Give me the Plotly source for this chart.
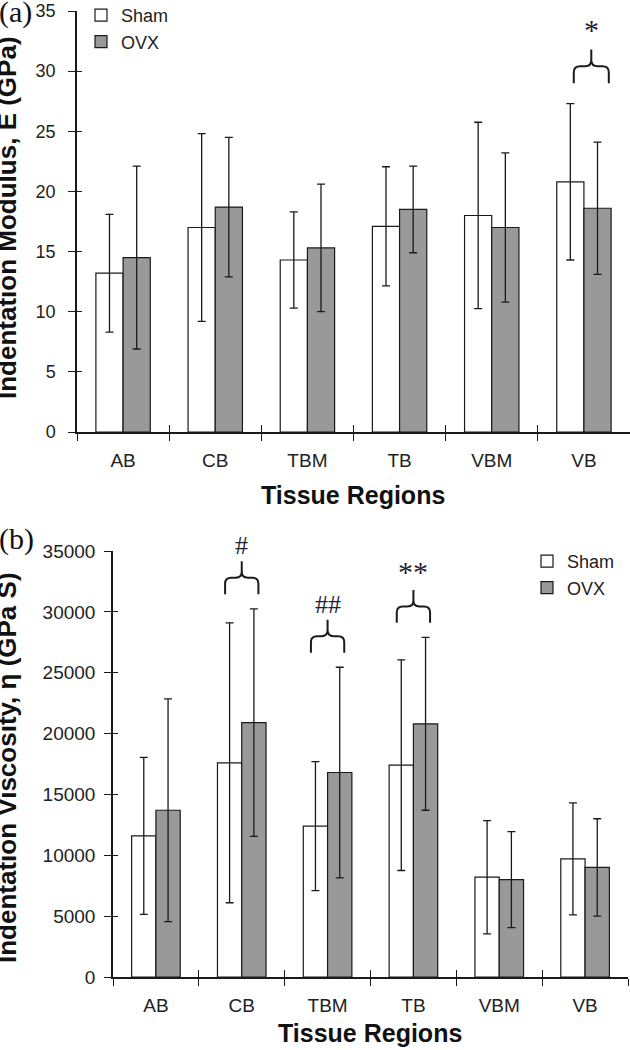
import plotly.graph_objects as go

regions = ["AB", "CB", "TBM", "TB", "VBM", "VB"]

# (a) indentation modulus, GPa
mod_sham = [13.2, 17.0, 14.3, 17.1, 18.0, 20.8]
mod_sham_sd = [4.9, 7.8, 4.0, 4.95, 7.75, 6.5]
mod_ovx = [14.5, 18.7, 15.3, 18.5, 17.0, 18.6]
mod_ovx_sd = [7.6, 5.8, 5.3, 3.6, 6.2, 5.5]

# (b) indentation viscosity, GPa S
visc_sham = [11600, 17600, 12400, 17400, 8200, 9700]
visc_sham_sd = [6450, 11500, 5300, 8650, 4650, 4600]
visc_ovx = [13700, 20900, 16800, 20800, 8000, 9000]
visc_ovx_sd = [9150, 9350, 8650, 7100, 3950, 4000]

# significance marks
mod_sig = ["VB"]
mod_sig_labels = ["*"]
visc_sig = ["CB", "TBM", "TB"]
visc_sig_labels = ["#", "##", "**"]

INK = "#1a1a1a"
GREY = "#999999"
SANS = "Liberation Sans, Arial, sans-serif"
SERIF = "Liberation Serif, Times New Roman, serif"
W, H = 630, 1050


def px(x):
    return x / W


def py(y):
    return (H - y) / H


xs = list(range(len(regions)))
bounds = [i - 0.5 for i in range(len(regions) + 1)]

fig = go.Figure()


def add_pair(sham, sham_sd, ovx, ovx_sd, xa, ya, legend, bw):
    common = dict(xaxis=xa, yaxis=ya, legend=legend, width=bw,
                  marker_line=dict(color=INK, width=1.2))
    err = dict(type="data", color=INK, thickness=1.3, width=4)
    fig.add_trace(go.Bar(x=xs, y=sham, name="Sham", offset=-bw,
                         marker_color="white",
                         error_y=dict(array=sham_sd, **err), **common))
    fig.add_trace(go.Bar(x=xs, y=ovx, name="OVX", offset=0,
                         marker_color=GREY,
                         error_y=dict(array=ovx_sd, **err), **common))


add_pair(mod_sham, mod_sham_sd, mod_ovx, mod_ovx_sd, "x", "y", "legend", 0.295)
add_pair(visc_sham, visc_sham_sd, visc_ovx, visc_ovx_sd, "x2", "y2", "legend2", 0.283)

# invisible traces carrying the overlay axes (inner half of crossing ticks)
fig.add_trace(go.Scatter(x=[None], y=[None], xaxis="x3", yaxis="y3",
                         showlegend=False, hoverinfo="skip"))
fig.add_trace(go.Scatter(x=[None], y=[None], xaxis="x4", yaxis="y4",
                         showlegend=False, hoverinfo="skip"))


def brace_path(cx, hw, y0, h, rx, ry):
    ysh = y0 + h * 0.5
    yt = y0 + h
    l, r = cx - hw, cx + hw
    return (f"M{l},{y0} L{l},{ysh - ry} Q{l},{ysh} {l + rx},{ysh} "
            f"L{cx - rx},{ysh} Q{cx},{ysh} {cx},{ysh + ry} L{cx},{yt} "
            f"M{cx},{ysh + ry} Q{cx},{ysh} {cx + rx},{ysh} "
            f"L{r - rx},{ysh} Q{r},{ysh} {r},{ysh - ry} L{r},{y0}")


def add_braces(sig, labels, sham, sham_sd, ovx, ovx_sd, xa, ya, gap, h, hw, shift, lab_dy):
    for reg, lab in zip(sig, labels):
        i = regions.index(reg)
        top = max(sham[i] + sham_sd[i], ovx[i] + ovx_sd[i])
        y0 = top + gap
        cx = i + shift
        fig.add_shape(type="path", xref=xa, yref=ya,
                      path=brace_path(cx, hw, y0, h, 0.07, h * 0.18),
                      line=dict(color=INK, width=2))
        big = "*" in lab
        fig.add_annotation(x=cx, y=y0 + h, xref=xa, yref=ya, text=lab,
                           showarrow=False, yanchor="bottom",
                           yshift=lab_dy + (1 if big else 0),
                           font=dict(family=SERIF, size=30 if big else 26,
                                     color="#222233"))


add_braces(mod_sig, mod_sig_labels, mod_sham, mod_sham_sd, mod_ovx, mod_ovx_sd,
           "x", "y", 1.7, 2.8, 0.19, 0.08, 0)
add_braces(visc_sig, visc_sig_labels, visc_sham, visc_sham_sd, visc_ovx, visc_ovx_sd,
           "x2", "y2", 1200, 2700, 0.194, 0.0, -1)

xdom_a = [px(77), px(630)]
ydom_a = [py(432), py(11)]
xdom_b = [px(113), px(628)]
ydom_b = [py(977), py(551)]

xbase = dict(range=[-0.5, len(regions) - 0.5], tickvals=xs, ticktext=regions,
             ticks="", ticklabelstandoff=10, automargin=False,
             minor=dict(tickvals=bounds, ticks="outside", ticklen=7,
                        tickcolor=INK, tickwidth=1.3),
             showline=True, linecolor=INK, linewidth=1.5, showgrid=False,
             zeroline=False, tickfont=dict(family=SANS, size=19, color="#222"))
xin = dict(range=[-0.5, len(regions) - 0.5], tickvals=bounds, ticks="inside",
           ticklen=7, tickcolor=INK, tickwidth=1.3, showticklabels=False,
           automargin=False, showline=False, showgrid=False, zeroline=False)
ybase = dict(showline=True, linecolor=INK, linewidth=1.5, showgrid=False,
             zeroline=False, ticks="outside", ticklen=7, tickcolor=INK,
             tickwidth=1.3, automargin=False)
yin = dict(ticks="inside", ticklen=5, tickcolor=INK, tickwidth=1.3,
           automargin=False, showticklabels=False, showline=False,
           showgrid=False, zeroline=False)

fig.update_layout(
    width=W, height=H,
    margin=dict(l=0, r=0, t=0, b=0, autoexpand=False),
    paper_bgcolor="white", plot_bgcolor="white",
    barmode="group",
    xaxis=dict(domain=xdom_a, anchor="y", **xbase),
    yaxis=dict(domain=ydom_a, anchor="x", range=[0, 35], dtick=5,
               ticklabelstandoff=9,
               tickfont=dict(family=SANS, size=18, color="#222"), **ybase),
    xaxis2=dict(domain=xdom_b, anchor="y2", **xbase),
    yaxis2=dict(domain=ydom_b, anchor="x2", range=[0, 35000], dtick=5000,
                tickformat="d", ticklabelstandoff=5,
                tickfont=dict(family=SANS, size=19, color="#222"), **ybase),
    xaxis3=dict(domain=xdom_a, anchor="y3", overlaying="x", **xin),
    yaxis3=dict(domain=ydom_a, anchor="x3", overlaying="y", range=[0, 35],
                dtick=5, **yin),
    xaxis4=dict(domain=xdom_b, anchor="y4", overlaying="x2", **xin),
    yaxis4=dict(domain=ydom_b, anchor="x4", overlaying="y2", range=[0, 35000],
                dtick=5000, **yin),
    legend=dict(x=px(81), y=py(-3), xanchor="left", yanchor="top",
                bgcolor="rgba(0,0,0,0)", itemwidth=30, tracegroupgap=0,
                font=dict(family=SANS, size=18, color="#222")),
    legend2=dict(x=px(527), y=py(543), xanchor="left", yanchor="top",
                 bgcolor="rgba(0,0,0,0)", itemwidth=30, tracegroupgap=0,
                 font=dict(family=SANS, size=18, color="#222")),
    showlegend=True,
)

texts = [
    ("(a)", 0, 12, 0, SERIF, 30, False),
    ("(b)", 0, 539, 0, SERIF, 30, False),
    ("Indentation Modulus, E (GPa)", 7, 218, -90, SANS, 26, True),
    ("Indentation Viscosity, η (GPa S)", 7, 768, -90, SANS, 26, True),
    ("Tissue Regions", 353, 495, 0, SANS, 25, True),
    ("Tissue Regions", 370, 1033, 0, SANS, 25, True),
]
for t, x, y, ang, fam, sz, bold in texts:
    fig.add_annotation(
        text=f"<b>{t}</b>" if bold else t, xref="paper", yref="paper",
        x=px(x), y=py(y), showarrow=False, textangle=ang,
        xanchor="left" if t.startswith("(") else "center", yanchor="middle",
        xshift=-3 if t.startswith("(") else 0,
        font=dict(family=fam, size=sz, color="#111"))

# the page's default 8px body margin would push the 630x1050 figure off-canvas
fig.write_html("out.html", config={"displayModeBar": False},
               post_script="document.body.style.margin='0';")
